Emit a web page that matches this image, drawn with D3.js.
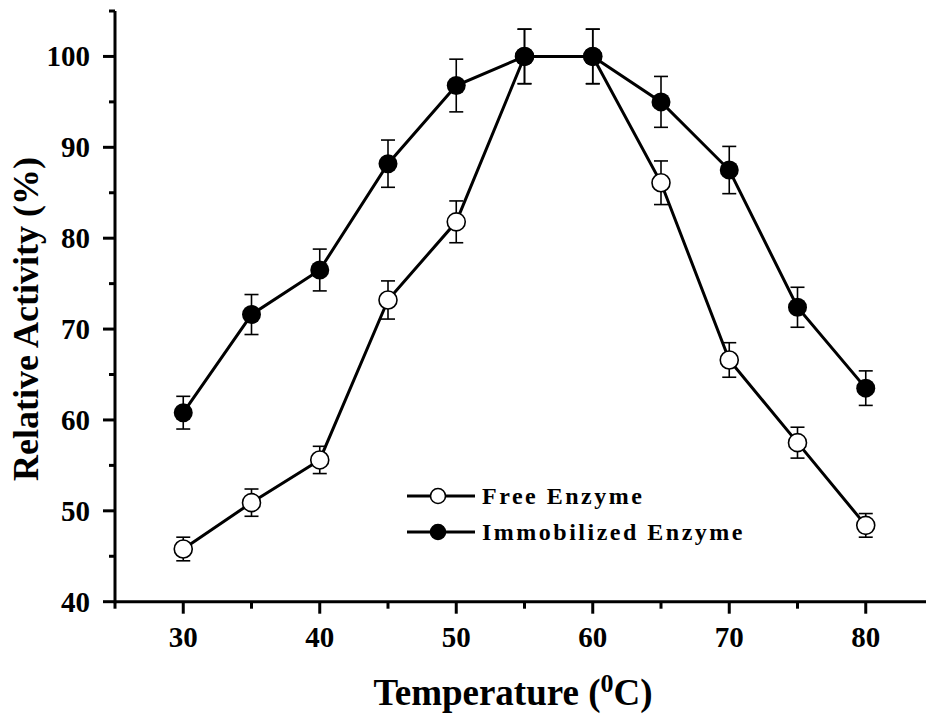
<!DOCTYPE html>
<html>
<head>
<meta charset="utf-8">
<script src="https://cdn.jsdelivr.net/npm/d3@7"></script>
<style>
  body { margin: 0; background: #fff; }
  svg text { font-family: "Liberation Serif", "Times New Roman", serif; font-weight: bold; fill: #000; }
</style>
</head>
<body>
<div id="chart"></div>
<script>
const w = 926;
const h = 715;

// data
const temperatures = [30, 35, 40, 45, 50, 55, 60, 65, 70, 75, 80];
const freeActivity = [45.8, 50.9, 55.6, 73.2, 81.8, 100, 100, 86.1, 66.6, 57.5, 48.4];
const freeError    = [1.3, 1.5, 1.5, 2.1, 2.3, 3.0, 3.0, 2.4, 1.9, 1.7, 1.3];
const immobActivity = [60.8, 71.6, 76.5, 88.2, 96.8, 100, 100, 95.0, 87.5, 72.4, 63.5];
const immobError    = [1.8, 2.2, 2.3, 2.6, 2.9, 3.0, 3.0, 2.8, 2.6, 2.2, 1.9];

const xTicks = [30, 40, 50, 60, 70, 80];
const xMinor = [25, 35, 45, 55, 65, 75];
const yTicks = [40, 50, 60, 70, 80, 90, 100];
const yMinor = [45, 55, 65, 75, 85, 95, 105];

const seriesNames = ["Free Enzyme", "Immobilized Enzyme"];

var svg = d3.select("#chart")
    .append("svg")
        .attr("width", w)
        .attr("height", h);

var x = d3.scaleLinear().domain([25, 85]).range([115, 934]);
var y = d3.scaleLinear().domain([40, 105]).range([601.7, 11]);

// axes
svg.append("line")
    .attr("x1", x(25)).attr("x2", w)
    .attr("y1", y(40)).attr("y2", y(40))
    .attr("stroke", "#000").attr("stroke-width", 3);
svg.append("line")
    .attr("x1", x(25)).attr("x2", x(25))
    .attr("y1", y(40) + 1.5).attr("y2", y(105))
    .attr("stroke", "#000").attr("stroke-width", 3);

svg.selectAll(".xmajor").data(xTicks).enter().append("line")
    .attr("x1", d => x(d)).attr("x2", d => x(d))
    .attr("y1", y(40)).attr("y2", y(40) + 12)
    .attr("stroke", "#000").attr("stroke-width", 3);
svg.selectAll(".xminor").data(xMinor).enter().append("line")
    .attr("x1", d => x(d)).attr("x2", d => x(d))
    .attr("y1", y(40)).attr("y2", y(40) + 7)
    .attr("stroke", "#000").attr("stroke-width", 3);
svg.selectAll(".ymajor").data(yTicks).enter().append("line")
    .attr("x1", x(25) - 12).attr("x2", x(25))
    .attr("y1", d => y(d)).attr("y2", d => y(d))
    .attr("stroke", "#000").attr("stroke-width", 3);
svg.selectAll(".yminor").data(yMinor).enter().append("line")
    .attr("x1", x(25) - 6).attr("x2", x(25))
    .attr("y1", d => y(d)).attr("y2", d => y(d))
    .attr("stroke", "#000").attr("stroke-width", 3);

svg.selectAll(".xlabel").data(xTicks).enter().append("text")
    .attr("x", d => x(d))
    .attr("y", 647)
    .attr("text-anchor", "middle")
    .attr("font-size", "29px")
    .text(d => d);
svg.selectAll(".ylabel").data(yTicks).enter().append("text")
    .attr("x", 90)
    .attr("y", d => y(d) + 10)
    .attr("text-anchor", "end")
    .attr("font-size", "29px")
    .text(d => d);

// axis titles
var xTitle = svg.append("text")
    .attr("x", 513)
    .attr("y", 705)
    .attr("text-anchor", "middle")
    .attr("font-size", "37px");
xTitle.append("tspan").text("Temperature (");
xTitle.append("tspan").attr("font-size", "26px").attr("dy", -13).text("0");
xTitle.append("tspan").attr("dy", 13).text("C)");

svg.append("text")
    .attr("transform", "translate(38,319) rotate(-90)")
    .attr("text-anchor", "middle")
    .attr("font-size", "36px")
    .text("Relative Activity (%)");

// lines
var line = d3.line()
    .x((d, i) => x(temperatures[i]))
    .y(d => y(d));

svg.append("path")
    .attr("d", line(freeActivity))
    .attr("fill", "none").attr("stroke", "#000").attr("stroke-width", 3);
svg.append("path")
    .attr("d", line(immobActivity))
    .attr("fill", "none").attr("stroke", "#000").attr("stroke-width", 3);

// error bars
function drawErrors(values, errors) {
    var g = svg.append("g");
    temperatures.forEach((t, i) => {
        var cx = x(t);
        var top = y(values[i] + errors[i]);
        var bot = y(values[i] - errors[i]);
        g.append("line").attr("x1", cx).attr("x2", cx).attr("y1", top).attr("y2", bot)
            .attr("stroke", "#000").attr("stroke-width", 1.6);
        g.append("line").attr("x1", cx - 7).attr("x2", cx + 7).attr("y1", top).attr("y2", top)
            .attr("stroke", "#000").attr("stroke-width", 1.6);
        g.append("line").attr("x1", cx - 7).attr("x2", cx + 7).attr("y1", bot).attr("y2", bot)
            .attr("stroke", "#000").attr("stroke-width", 1.6);
    });
}
drawErrors(freeActivity, freeError);
drawErrors(immobActivity, immobError);

// markers
svg.selectAll(".free").data(freeActivity).enter().append("circle")
    .attr("cx", (d, i) => x(temperatures[i]))
    .attr("cy", d => y(d))
    .attr("r", 9)
    .attr("fill", "#fff").attr("stroke", "#000").attr("stroke-width", 1.6);
svg.selectAll(".immob").data(immobActivity).enter().append("circle")
    .attr("cx", (d, i) => x(temperatures[i]))
    .attr("cy", d => y(d))
    .attr("r", 9.5)
    .attr("fill", "#000");

// legend
var legend = svg.append("g").attr("transform", "translate(407,496)");
seriesNames.forEach((name, i) => {
    var row = legend.append("g").attr("transform", "translate(0," + (i * 36) + ")");
    row.append("line").attr("x1", 0).attr("x2", 68).attr("y1", 0).attr("y2", 0)
        .attr("stroke", "#000").attr("stroke-width", 3);
    row.append("circle").attr("cx", 31).attr("cy", 0).attr("r", 7.5)
        .attr("fill", i === 0 ? "#fff" : "#000")
        .attr("stroke", "#000").attr("stroke-width", 1.6);
    row.append("text")
        .attr("x", 75).attr("y", 8)
        .attr("font-size", "24px")
        .attr("letter-spacing", "2.5px")
        .text(name);
});
</script>
</body>
</html>
